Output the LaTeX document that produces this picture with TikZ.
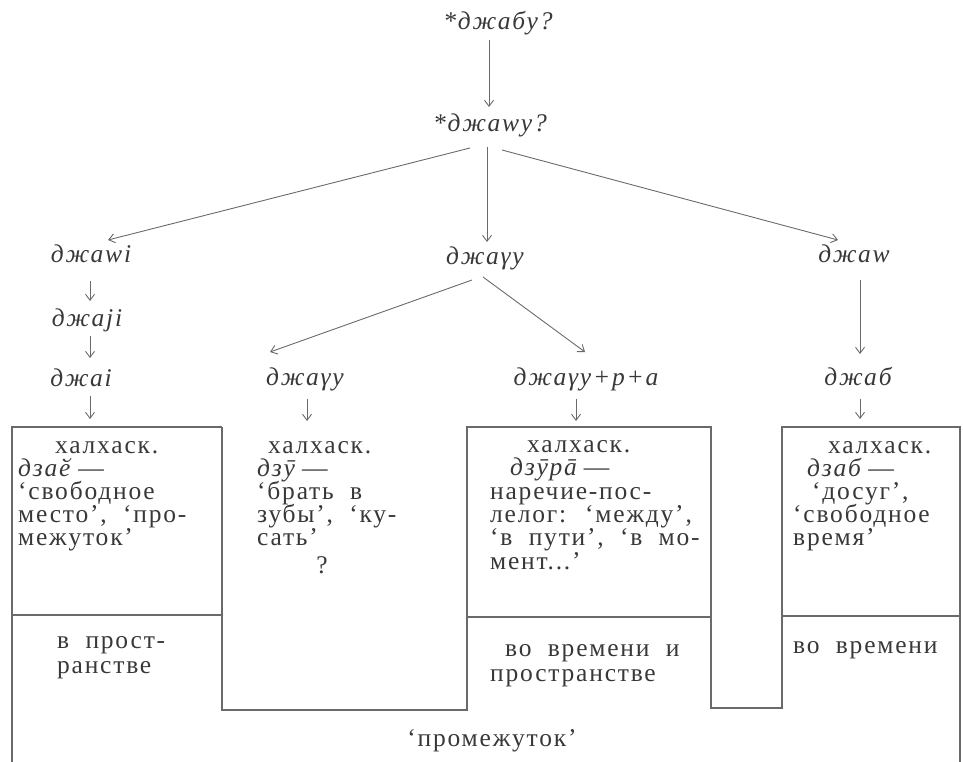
\documentclass[tikz,border=0pt]{standalone}
\usepackage{fontspec}
\setmainfont{Liberation Serif}[LetterSpace=7,WordSpace=2]
\usetikzlibrary{arrows.meta,calc}
\definecolor{ink}{HTML}{383838}
\definecolor{rulec}{HTML}{6A6A6A}
\newcommand{\dsh}{\hspace{5pt}—}
\begin{document}
\begin{tikzpicture}[x=1pt,y=-1pt,
  txt/.style={font=\fontsize{25.5}{23}\selectfont, text=ink, inner sep=0pt, anchor=base},
  it/.style={txt, font=\fontsize{25.5}{23}\selectfont\itshape},
  bl/.style={txt, anchor=base west},
  arr/.style={draw=rulec, line width=0.9pt, -{Straight Barb[length=6pt,width=9pt]}},
  frame/.style={draw=rulec, line width=1.1pt}]
\useasboundingbox (0,0) rectangle (963,762);

% derivation words
\node[it] (n0) at (498,30) {*джабу?};
\node[it] (n1) at (490,132) {*джаwу?};
\node[it] (jawi) at (91,262) {джаwi};
\node[it] (jaji) at (87,326) {джаji};
\node[it] (jai) at (81,386) {джаi};
\node[it] (jagu) at (485,264) {джаγу};
\node[it] (jagu2) at (305,385) {джаγу};
\node[it] (jagura) at (586,385) {джаγу+р+а};
\node[it] (jaw) at (854,262) {джаw};
\node[it] (jab) at (858,385) {джаб};

% arrow ends at box tops
\coordinate (t1) at (90,419);
\coordinate (t2) at (307,421);
\coordinate (t3) at (576,421);
\coordinate (t4) at (860,419);

% connectors
\draw[arr] ($(n0.base)+(-9,10)$) -- ($(n1.base)+(-1,-25)$);
\draw[arr] ($(n1.base)+(-20,16)$) -- ($(jawi.base)+(17,-22)$);
\draw[arr] ($(n1.base)+(-3,15)$) -- ($(jagu.base)+(2,-22)$);
\draw[arr] ($(n1.base)+(12,18)$) -- ($(jaw.base)+(-16,-22)$);
\draw[arr] ($(jawi.base)+(-1,19)$) -- ($(jaji.base)+(3,-25)$);
\draw[arr] ($(jaji.base)+(3,10)$) -- ($(jai.base)+(9,-28)$);
\draw[arr] ($(jai.base)+(9,10)$) -- (t1);
\draw[arr] ($(jagu.base)+(-13,16)$) -- ($(jagu2.base)+(-35,-33)$);
\draw[arr] ($(jagu.base)+(-2,13)$) -- ($(jagura.base)+(-1,-33)$);
\draw[arr] ($(jagu2.base)+(2,14)$) -- (t2);
\draw[arr] ($(jagura.base)+(-10,14)$) -- (t3);
\draw[arr] ($(jaw.base)+(6,18)$) -- ($(jab.base)+(2,-31)$);
\draw[arr] ($(jab.base)+(2,14)$) -- (t4);

% frame
\draw[frame] (12,762) -- (12,427) -- (222,427);
\draw[frame] (222,427) -- (222,710) -- (467,710) -- (467,427) -- (711,427)
  -- (711,708) -- (782,708) -- (782,427) -- (960,427) -- (960,762);
\draw[frame] (12,615) -- (222,615);
\draw[frame] (467,617) -- (711,617);
\draw[frame] (782,616) -- (960,616);

% box 1
\node[bl] (b1a) at (55,453) {халхаск.};
\node[bl] (b1b) at (18,476) {\textit{дзаӗ}\dsh};
\node[bl] (b1c) at (18,499) {‘свободное};
\node[bl] (b1d) at (18,522) {место’, ‘про-};
\node[bl] (b1e) at (18,545) {межуток’};
\node[bl] (b1f) at (57,648) {в прост-};
\node[bl] (b1g) at (57,673) {ранстве};

% box 2
\node[bl] (b2a) at (268,453) {халхаск.};
\node[bl] (b2b) at (257,476) {\textit{дзӯ}\dsh};
\node[bl] (b2c) at (257,499) {‘брать в};
\node[bl] (b2d) at (257,522) {зубы’, ‘ку-};
\node[bl] (b2e) at (257,545) {сать’};
\node[txt] (b2f) at (322,573) {?};

% box 3
\node[bl] (b3a) at (527,452) {халхаск.};
\node[bl] (b3b) at (510,475) {\textit{дзӯрā}\dsh};
\node[bl] (b3c) at (490,499) {наречие-пос-};
\node[bl] (b3d) at (490,522) {лелог: ‘между’,};
\node[bl] (b3e) at (490,545) {‘в пути’, ‘в мо-};
\node[bl] (b3f) at (490,569) {мент...’};
\node[bl] (b3g) at (505,656) {во времени и};
\node[bl] (b3h) at (490,681) {пространстве};

% box 4
\node[bl] (b4a) at (828,453) {халхаск.};
\node[bl] (b4b) at (807,476) {\textit{дзаб}\dsh};
\node[bl] (b4c) at (812,499) {‘досуг’,};
\node[bl] (b4d) at (793,522) {‘свободное};
\node[bl] (b4e) at (793,545) {время’};
\node[bl] (b4f) at (793,653) {во времени};

% bottom label
\node[txt] (lab) at (492,746) {‘промежуток’};
\end{tikzpicture}
\end{document}
